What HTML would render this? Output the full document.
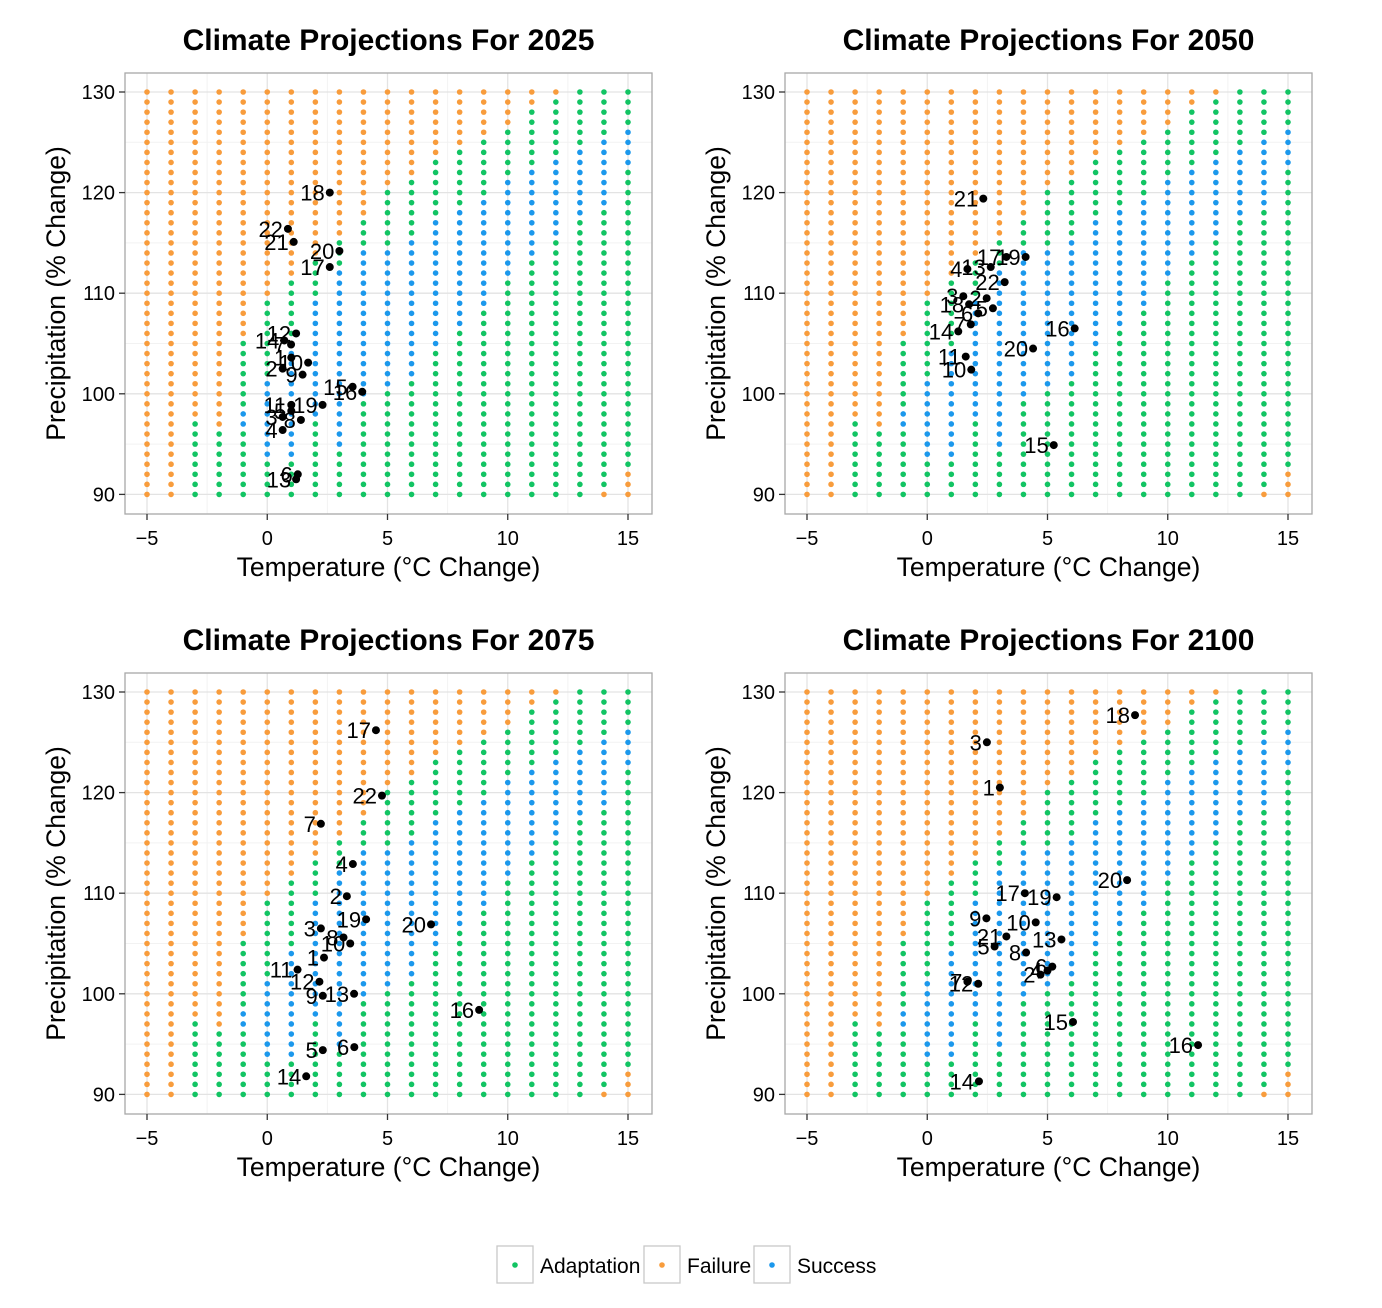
<!DOCTYPE html>
<html><head><meta charset="utf-8"><style>
html,body{margin:0;padding:0;background:#fff;}
svg{display:block;font-family:"Liberation Sans",Arial,sans-serif;}
</style></head><body>
<svg id="chart" width="1382" height="1308" viewBox="0 0 1382 1308" xmlns="http://www.w3.org/2000/svg"></svg>
<script>
// Grid definition (per temperature column, -5..15)
const tempCols = [-5,-4,-3,-2,-1,0,1,2,3,4,5,6,7,8,9,10,11,12,13,14,15];
const failAbove = [90,90,98,97,106,110,112,114,116,118,121,122,124,125,126,127,129,130,131,131,131];
const blueLo = [0,0,0,0,97,94,94,98,95,100,101,102,105,107,109,112,114,116,118,119,123];
const blueHi = [-1,-1,-1,-1,98,101,104,109,112,114,114,115,117,118,119,121,122,123,124,125,126];
const failBelow = [89,89,89,89,89,89,89,89,89,89,89,89,89,89,89,89,89,89,89,90,92];
const xTicks = [-5,0,5,10,15];
const yTicks = [90,100,110,120,130];
const panelTitles = ["Climate Projections For 2025","Climate Projections For 2050","Climate Projections For 2075","Climate Projections For 2100"];
// Labelled projections per panel
const p2025Labels = ["18","22","21","20","17","12","14","7","1","10","2","9","15","16","11","19","8","3","5","4","6","13"];
const p2025X = [2.6,0.86,1.1,3.0,2.6,1.2,0.71,0.99,1.0,1.7,0.64,1.47,3.55,3.95,1.0,2.3,1.4,0.64,1.0,0.64,1.27,1.2];
const p2025Y = [120.0,116.4,115.1,114.2,112.6,106.0,105.3,104.9,103.6,103.1,102.5,101.9,100.7,100.2,98.9,98.9,97.4,97.7,98.3,96.4,92.0,91.5];
const p2050Labels = ["21","17","19","4","13","22","3","2","18","5","6","7","14","16","20","11","10","15"];
const p2050X = [2.33,3.29,4.09,1.67,2.64,3.22,1.5,2.47,1.74,2.73,2.12,1.81,1.29,6.13,4.4,1.6,1.83,5.26];
const p2050Y = [119.4,113.6,113.6,112.4,112.6,111.1,109.7,109.5,108.9,108.5,108.0,106.9,106.2,106.5,104.5,103.7,102.4,94.9];
const p2075Labels = ["17","22","7","4","2","19","20","3","8","10","1","11","12","9","13","16","6","5","14"];
const p2075X = [4.52,4.77,2.23,3.56,3.31,4.11,6.81,2.23,3.17,3.45,2.36,1.26,2.17,2.31,3.61,8.81,3.62,2.31,1.62];
const p2075Y = [126.2,119.7,116.9,112.9,109.7,107.4,106.9,106.5,105.6,105.0,103.6,102.4,101.2,99.8,100.0,98.4,94.7,94.4,91.8];
const p2100Labels = ["18","3","1","20","17","19","9","10","21","13","5","8","6","4","2","7","12","15","16","14"];
const p2100X = [8.64,2.48,3.02,8.31,4.06,5.38,2.46,4.51,3.29,5.58,2.8,4.11,5.2,5.0,4.71,1.67,2.12,6.06,11.26,2.15];
const p2100Y = [127.7,125.0,120.5,111.3,110.0,109.6,107.5,107.1,105.7,105.4,104.7,104.1,102.7,102.3,101.9,101.2,101.0,97.2,94.9,91.3];
const panelLabels=[p2025Labels,p2050Labels,p2075Labels,p2100Labels];
const panelX=[p2025X,p2050X,p2075X,p2100X];
const panelY=[p2025Y,p2050Y,p2075Y,p2100Y];

const NS="http://www.w3.org/2000/svg";
const svg=document.getElementById('chart');
const COL={A:"#12c463",F:"#f89c3c",S:"#1b98ec"};
function mk(tag,attrs,parent){const e=document.createElementNS(NS,tag);for(const k in attrs)e.setAttribute(k,attrs[k]);(parent||svg).appendChild(e);return e;}
function cls(i,y){if(y>=failAbove[i]||y<=failBelow[i])return "F";if(y>=blueLo[i]&&y<=blueHi[i])return "S";return "A";}

const panels=[{x:125,y:73},{x:785,y:73},{x:125,y:673},{x:785,y:673}];
const PW=527,PH=441;
panels.forEach((p,pi)=>{
  const g=mk('g',{});
  
  
  const sx=v=>p.x+22+(v+5)*24.05;
  const sy=v=>p.y+19+(130-v)*10.06;
  const bg=mk('rect',{x:p.x,y:p.y,width:PW,height:PH,fill:"#fff"},g);
  
  
  [-2.5,2.5,7.5,12.5].forEach(v=>mk('line',{x1:sx(v),x2:sx(v),y1:p.y,y2:p.y+PH,stroke:"#f2f2f2","stroke-width":1},g));
  [95,105,115,125].forEach(v=>mk('line',{x1:p.x,x2:p.x+PW,y1:sy(v),y2:sy(v),stroke:"#f2f2f2","stroke-width":1},g));
  xTicks.forEach(v=>mk('line',{x1:sx(v),x2:sx(v),y1:p.y,y2:p.y+PH,stroke:"#e3e3e3","stroke-width":1.3},g));
  yTicks.forEach(v=>mk('line',{x1:p.x,x2:p.x+PW,y1:sy(v),y2:sy(v),stroke:"#e3e3e3","stroke-width":1.3},g));
  tempCols.forEach((t,i)=>{
    for(let y=90;y<=130;y++){
      const c=mk('circle',{cx:sx(t),cy:sy(y),r:2.8,fill:COL[cls(i,y)]},g);
      
      
    }
  });
  const L=panelLabels[pi],X=panelX[pi],Y=panelY[pi];
  L.forEach((lab,k)=>{
    const c=mk('circle',{cx:sx(X[k]),cy:sy(Y[k]),r:4,fill:"#000"},g);
    
    
    const t=mk('text',{x:sx(X[k])-5,y:sy(Y[k])+8,"text-anchor":"end","font-size":22,fill:"#000"},g);
    t.textContent=lab;
    
    
  });
  const br=mk('rect',{x:p.x,y:p.y,width:PW,height:PH,fill:"none",stroke:"#a8a8a8","stroke-width":1.3},g);
  
  
  xTicks.forEach(v=>{
    mk('line',{x1:sx(v),x2:sx(v),y1:p.y+PH,y2:p.y+PH+6,stroke:"#333","stroke-width":1.3},g);
    const t=mk('text',{x:sx(v),y:p.y+PH+31,"text-anchor":"middle","font-size":20,fill:"#000"},g);
    t.textContent=v<0?"\u2212"+(-v):String(v);
    
    
  });
  yTicks.forEach(v=>{
    mk('line',{x1:p.x-6,x2:p.x,y1:sy(v),y2:sy(v),stroke:"#333","stroke-width":1.3},g);
    const t=mk('text',{x:p.x-10,y:sy(v)+7,"text-anchor":"end","font-size":20,fill:"#000"},g);
    t.textContent=String(v);
    
    
  });
  const ti=mk('text',{x:p.x+PW/2,y:p.y-23,"text-anchor":"middle","font-size":30,"font-weight":"bold",fill:"#000"},g);
  ti.textContent=panelTitles[pi];
  
  
  const xt=mk('text',{x:p.x+PW/2,y:p.y+PH+62,"text-anchor":"middle","font-size":26.5,fill:"#000"},g);
  xt.textContent="Temperature (\u00B0C Change)";
  
  
  const yx=p.x-60,yy=p.y+PH/2;
  const yt=mk('text',{x:yx,y:yy,"text-anchor":"middle","font-size":26.5,fill:"#000",transform:`rotate(-90 ${yx} ${yy})`},g);
  yt.textContent="Precipitation (% Change)";
  
  
});
// legend
const legItems=[["Adaptation","A",497],["Failure","F",644],["Success","S",754]];
legItems.forEach(([name,k,x])=>{
  const g=mk('g',{});
  
  
  mk('rect',{x:x,y:1246,width:36,height:37,fill:"#fff",stroke:"#c8c8c8","stroke-width":1.3},g);
  mk('circle',{cx:x+18,cy:1265,r:2.8,fill:COL[k]},g);
  const t=mk('text',{x:x+43,y:1273,"font-size":21,fill:"#000"},g);
  t.textContent=name;
});
</script>
</body></html>
